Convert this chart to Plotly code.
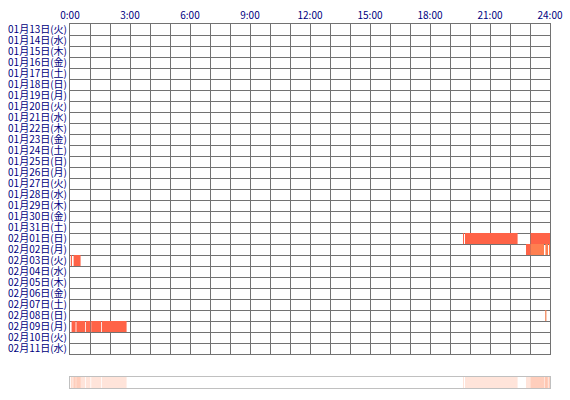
import plotly.graph_objects as go

# rows of the chart (one per day)
days = [
    "01月13日(火)", "01月14日(水)", "01月15日(木)", "01月16日(金)", "01月17日(土)",
    "01月18日(日)", "01月19日(月)", "01月20日(火)", "01月21日(水)", "01月22日(木)",
    "01月23日(金)", "01月24日(土)", "01月25日(日)", "01月26日(月)", "01月27日(火)",
    "01月28日(水)", "01月29日(木)", "01月30日(金)", "01月31日(土)", "02月01日(日)",
    "02月02日(月)", "02月03日(火)", "02月04日(水)", "02月05日(木)", "02月06日(金)",
    "02月07日(土)", "02月08日(日)", "02月09日(月)", "02月10日(火)", "02月11日(水)",
]

hour_ticks = [0, 3, 6, 9, 12, 15, 18, 21, 24]
hour_labels = ["0:00", "3:00", "6:00", "9:00", "12:00", "15:00", "18:00", "21:00", "24:00"]

# activity segments, start/end in hours
seg_day = [
    "02月01日(日)", "02月01日(日)", "02月01日(日)",
    "02月02日(月)", "02月02日(月)", "02月02日(月)", "02月02日(月)",
    "02月03日(火)", "02月03日(火)",
    "02月08日(日)",
    "02月09日(月)", "02月09日(月)", "02月09日(月)", "02月09日(月)", "02月09日(月)",
]
seg_start = [19.65, 19.75, 23.03,
             22.80, 23.03, 23.77, 23.95,
             0.04, 0.18,
             23.76,
             0.08, 0.32, 0.80, 1.06, 1.60]
seg_end = [19.70, 22.38, 24.00,
           23.03, 23.70, 23.90, 24.00,
           0.10, 0.53,
           23.82,
           0.28, 0.76, 1.02, 1.56, 2.83]
seg_color = ["#ff6347", "#ff6347", "#ff6347",
             "#ff6347", "#ff7f50", "#ff7f50", "#ff7f50",
             "#ff6347", "#ff6347",
             "#f07f50",
             "#ff6347", "#ff6347", "#ff6347", "#ff6347", "#ff6347"]

row_idx = [days.index(d) for d in seg_day]
durations = [e - s for s, e in zip(seg_start, seg_end)]

grid = "#727272"
navy = "#000080"

fig = go.Figure()

fig.add_trace(go.Bar(
    orientation="h",
    y=row_idx,
    x=durations,
    base=seg_start,
    width=1,
    marker=dict(color=seg_color, line=dict(width=0)),
    hoverinfo="skip",
    xaxis="x", yaxis="y",
))

# summary strip: all segments overlaid with transparency
for s, d in zip(seg_start, durations):
    fig.add_trace(go.Bar(
        orientation="h",
        y=[0],
        x=[d],
        base=[s],
        width=1,
        marker=dict(color="rgba(255,120,70,0.2)", line=dict(width=0)),
        hoverinfo="skip",
        xaxis="x2", yaxis="y2",
    ))

fig.update_layout(
    width=570, height=400, autosize=False,
    margin=dict(l=70, r=20, t=24, b=12),
    paper_bgcolor="white", plot_bgcolor="white",
    barmode="overlay",
    showlegend=False,
    font=dict(family="Noto Sans CJK JP", size=10, color=navy),
    xaxis=dict(
        range=[0, 24], side="top", anchor="y",
        tickmode="array", tickvals=hour_ticks, ticktext=hour_labels,
        showgrid=True, gridcolor=grid, gridwidth=1,
        minor=dict(dtick=1, tick0=0, showgrid=True, gridcolor=grid, gridwidth=1),
        showline=True, linecolor=grid, linewidth=1, mirror=True,
        ticks="", zeroline=False, automargin=False,
        tickfont=dict(size=10, color=navy),
    ),
    yaxis=dict(
        domain=[0.0934, 1], range=[29.5, -0.5], anchor="x",
        tickmode="array", tickvals=list(range(len(days))), ticktext=days,
        showgrid=False,
        minor=dict(tick0=0.5, dtick=1, showgrid=True, gridcolor=grid, gridwidth=1),
        showline=True, linecolor=grid, linewidth=1, mirror=True,
        ticks="", zeroline=False, automargin=False,
        tickfont=dict(size=10, color=navy),
    ),
    xaxis2=dict(
        range=[0, 24], anchor="y2", showticklabels=False, ticks="",
        showgrid=False, zeroline=False,
        showline=True, linecolor="#c0c0c0", linewidth=1, mirror=True,
    ),
    yaxis2=dict(
        domain=[0, 0.0302], range=[-0.5, 0.5], anchor="x2",
        showticklabels=False, ticks="", showgrid=False, zeroline=False,
        showline=True, linecolor="#c0c0c0", linewidth=1, mirror=True,
    ),
)

# drop the default page margin so the figure sits at the window's corner
fig.write_html(
    "out.html",
    config={"displayModeBar": False, "staticPlot": True},
    post_script="document.body.style.margin='0';",
)
